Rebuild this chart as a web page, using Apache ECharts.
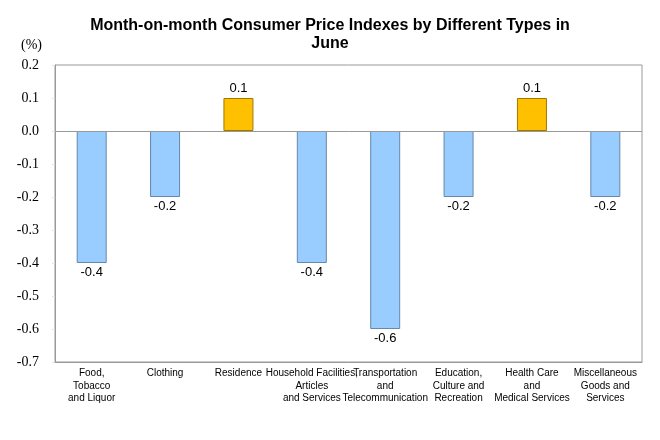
<!DOCTYPE html>
<html>
<head>
<meta charset="utf-8">
<script src="https://cdn.jsdelivr.net/npm/echarts@6/dist/echarts.min.js"></script>
<style>
html, body { margin: 0; padding: 0; background: #fff; }
#main { width: 660px; height: 440px; }
</style>
</head>
<body>
<div id="main"></div>
<script>
var categories = [
    'Food,\nTobacco\nand Liquor',
    'Clothing',
    'Residence',
    'Household Facilities,\nArticles\nand Services',
    'Transportation\nand\nTelecommunication',
    'Education,\nCulture and\nRecreation',
    'Health Care\nand\nMedical Services',
    'Miscellaneous\nGoods and\nServices'
];
var values = [-0.4, -0.2, 0.1, -0.4, -0.6, -0.2, 0.1, -0.2];

var chart = echarts.init(document.getElementById('main'));

var barData = values.map(function (v) {
    var up = v >= 0;
    return {
        value: v,
        itemStyle: {
            color: up ? '#ffc000' : '#99ccff',
            borderColor: up ? '#a07800' : '#6688aa',
            borderWidth: 1
        },
        label: { position: up ? 'top' : 'bottom' }
    };
});

chart.setOption({
    title: {
        text: 'Month-on-month Consumer Price Indexes by Different Types in\nJune',
        left: 'center',
        top: 12,
        textStyle: {
            fontFamily: 'Liberation Sans',
            fontWeight: 'bold',
            fontSize: 16,
            lineHeight: 18,
            color: '#000'
        }
    },
    graphic: [{
        type: 'text',
        left: 21,
        top: 38,
        style: { text: '(%)', font: '14px "Liberation Serif"', fill: '#000' }
    }],
    grid: {
        left: 55,
        right: 18,
        top: 65,
        bottom: 78,
        show: true,
        borderColor: '#999',
        borderWidth: 1
    },
    xAxis: {
        type: 'category',
        data: categories,
        axisLine: { onZero: false, lineStyle: { color: '#999' } },
        axisTick: { show: false },
        axisLabel: {
            interval: 0,
            fontFamily: 'Liberation Sans',
            fontSize: 10,
            lineHeight: 12.5,
            color: '#000',
            margin: 5
        }
    },
    yAxis: {
        type: 'value',
        min: -0.7,
        max: 0.2,
        interval: 0.1,
        splitLine: { show: false },
        axisLine: { show: true, lineStyle: { color: '#999' } },
        axisTick: { show: true, length: 3, inside: false, lineStyle: { color: '#e4e4e4' } },
        axisLabel: {
            fontFamily: 'Liberation Serif',
            fontSize: 14,
            color: '#000',
            margin: 16,
            formatter: function (v) { return v.toFixed(1); }
        }
    },
    series: [{
        type: 'bar',
        data: barData,
        barWidth: 30,
        label: {
            show: true,
            fontFamily: 'Liberation Sans',
            fontSize: 13,
            color: '#000',
            distance: 3,
            formatter: function (p) { return p.value.toFixed(1); }
        },
        markLine: {
            silent: true,
            symbol: 'none',
            label: { show: false },
            lineStyle: { color: '#999', type: 'solid', width: 1 },
            data: [{ yAxis: 0 }]
        }
    }]
});
</script>
</body>
</html>
